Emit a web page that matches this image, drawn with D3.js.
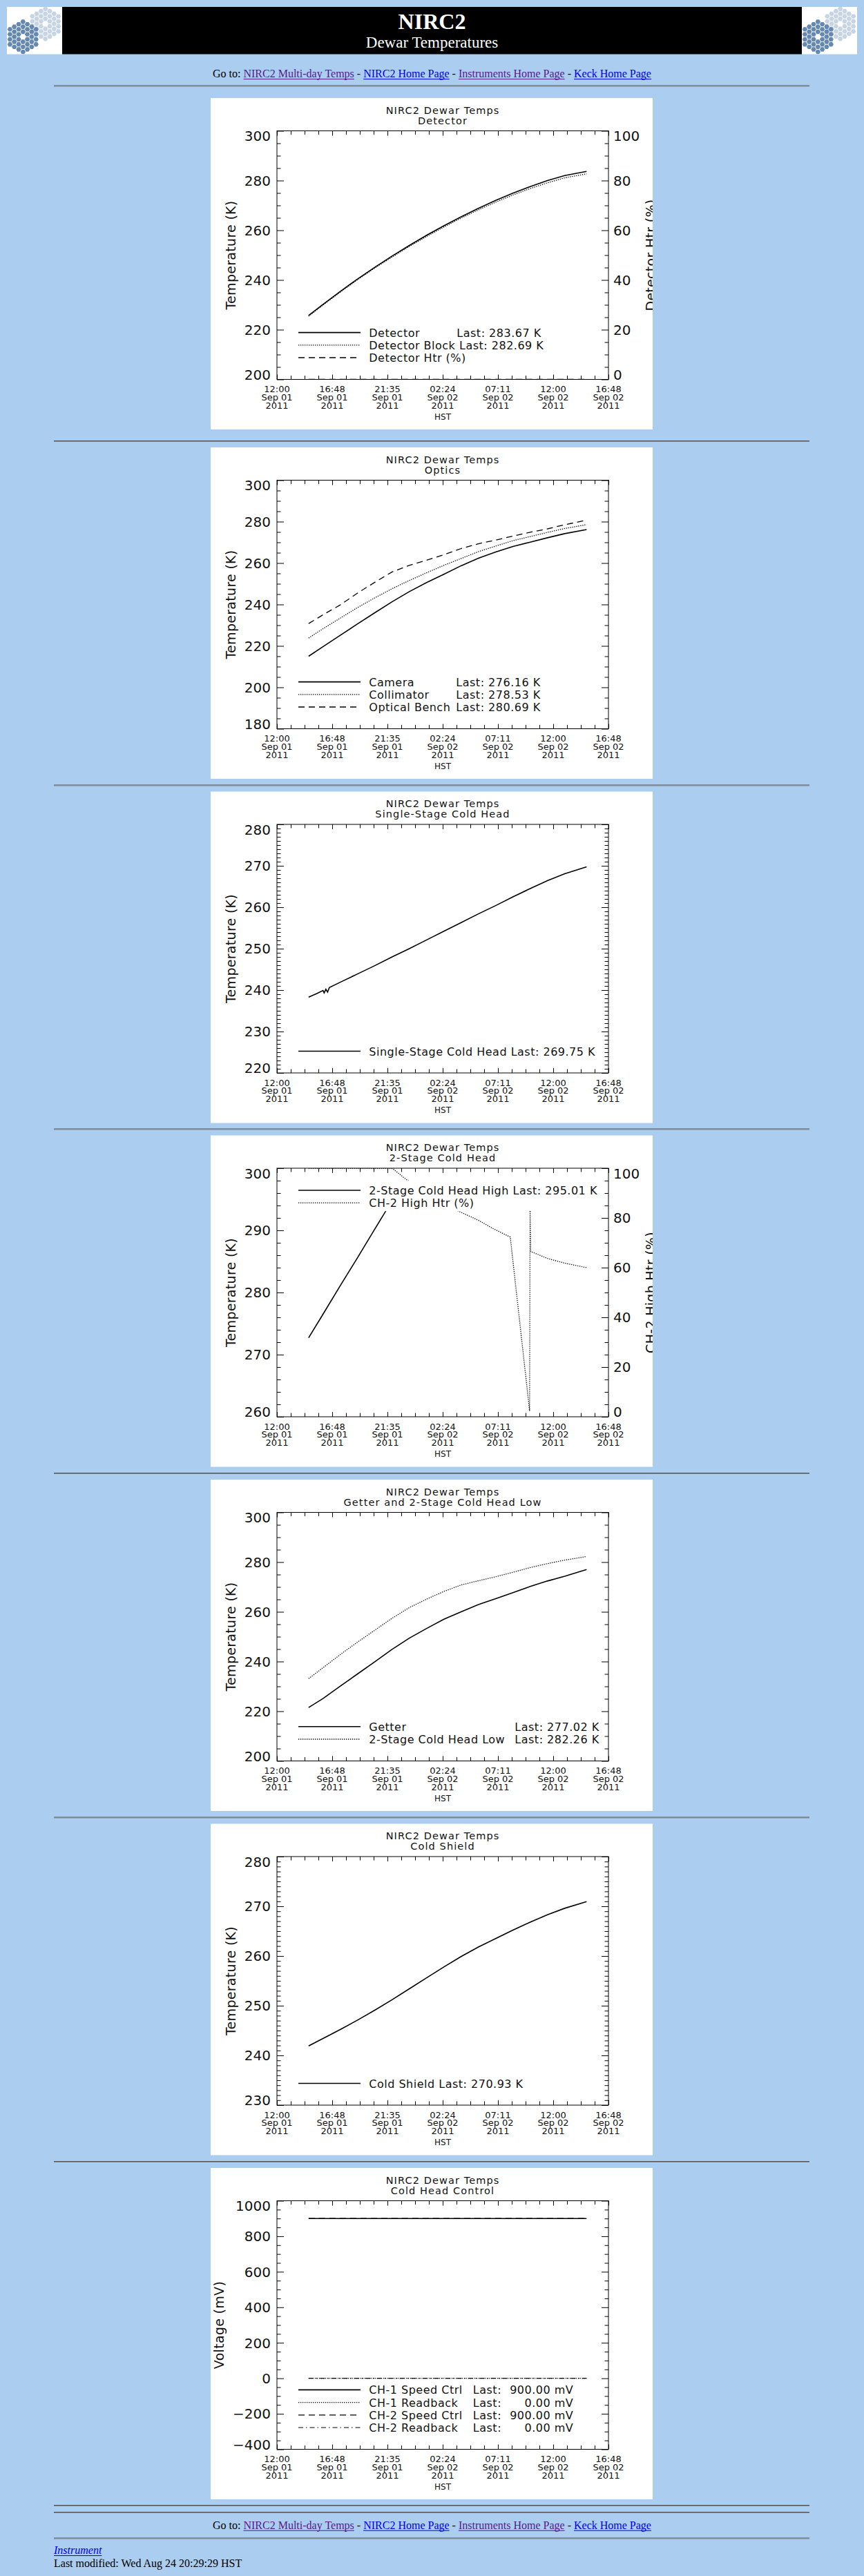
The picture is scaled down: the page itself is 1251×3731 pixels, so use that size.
<!DOCTYPE html>
<html>
<head>
<meta charset="utf-8">
<title>NIRC2 Dewar Temperatures</title>
<script src="https://cdn.jsdelivr.net/npm/d3@7"></script>
<style>
html,body{margin:0;padding:0;background:#abcdef;}
svg{display:block;}
</style>
</head>
<body>
<svg id="page" width="1251" height="3731"></svg>
<script>
// ---------------- DATA ----------------
// x axis: hours after 12:00 HST, Sep 01 2011
const xTickHours = [0, 4.8, 9.6, 14.4, 19.2, 24, 28.8];
const xTickTimes = ["12:00", "16:48", "21:35", "02:24", "07:11", "12:00", "16:48"];
const xTickDates = ["Sep 01", "Sep 01", "Sep 01", "Sep 02", "Sep 02", "Sep 02", "Sep 02"];
const xTickYears = ["2011", "2011", "2011", "2011", "2011", "2011", "2011"];

// sample times (hours after 12:00 Sep 01)
const hours = [2.75, 4, 5.5, 7, 8.5, 10, 11.5, 13, 14.5, 16, 17.5, 19, 20.5, 22, 23.5, 25, 26.9];

// Panel 1: Detector
const detectorT      = [225.7, 230.2, 235.4, 240.4, 245.1, 249.6, 253.9, 258.0, 261.8, 265.4, 268.8, 272.0, 274.9, 277.6, 280.0, 282.0, 283.67];
const detectorBlockT = [225.4, 229.9, 235.1, 240.1, 244.8, 249.2, 253.5, 257.5, 261.3, 264.9, 268.2, 271.3, 274.2, 276.8, 279.1, 281.1, 282.69];
const detectorHtrHours = [2.75, 26.9];
const detectorHtr      = [0, 0];
const p1YTicks = [200, 220, 240, 260, 280, 300];
const pctTicks = [0, 20, 40, 60, 80, 100];
const p1LegendNames = ["Detector", "Detector Block", "Detector Htr (%)"];
const p1LegendLast  = ["Last: 283.67 K", "Last: 282.69 K", ""];

// Panel 2: Optics
const cameraT     = [215.0, 219.6, 225.1, 230.6, 236.0, 241.3, 246.2, 250.6, 254.6, 258.7, 262.3, 265.3, 268.0, 270.1, 272.2, 274.2, 276.16];
const collimatorT = [223.8, 228.3, 233.4, 238.5, 243.2, 247.6, 251.6, 255.3, 258.9, 262.2, 265.5, 268.2, 270.8, 272.8, 274.8, 276.7, 278.53];
const benchT      = [230.8, 235.0, 239.8, 245.5, 250.7, 255.7, 258.9, 261.4, 264.0, 267.0, 269.3, 271.1, 273.0, 274.9, 276.5, 278.5, 280.69];
const p2YTicks = [180, 200, 220, 240, 260, 280, 300];
const p2LegendNames = ["Camera", "Collimator", "Optical Bench"];
const p2LegendLast  = ["Last: 276.16 K", "Last: 278.53 K", "Last: 280.69 K"];

// Panel 3: Single-Stage Cold Head
const p3Hours = [2.75, 3.5, 4.0, 4.1, 4.25, 4.4, 4.55, 5.5, 7, 8.5, 10, 11.5, 13, 14.5, 16, 17.5, 19, 20.5, 22, 23.5, 25, 26.9];
const singleStageT = [238.3, 239.2, 239.9, 239.3, 240.2, 239.5, 240.6, 241.9, 243.9, 245.9, 248.0, 250.0, 252.1, 254.2, 256.3, 258.4, 260.4, 262.5, 264.5, 266.4, 268.1, 269.75];
const p3YTicks = [220, 230, 240, 250, 260, 270, 280];
const p3LegendNames = ["Single-Stage Cold Head"];
const p3LegendLast  = ["Last: 269.75 K"];

// Panel 4: 2-Stage Cold Head
const p4Hours = [2.75, 4, 5.5, 7, 8.5, 9.45, 10.2, 11.5, 14, 17, 20, 21.9, 21.99, 22.1, 25, 26.9];
const twoStageHighT = [272.7, 276.5, 281.1, 285.6, 290.2, 293.1, 294.7, 295.0, 295.1, 295.0, 295.1, 295.0, 293.0, 295.0, 295.0, 295.01];
const p4HtrHours = [2.75, 9.8, 10.07, 11.19, 13.5, 15.79, 17.53, 18.78, 20.27, 21.95, 21.99, 22.05, 23.5, 25, 26.9];
const ch2HighHtr = [100, 100, 99.8, 95.6, 89.0, 82.7, 79.0, 75.7, 72.3, 2.3, 82.5, 66.5, 63.7, 61.8, 60.0];
const p4YTicks = [260, 270, 280, 290, 300];
const p4LegendNames = ["2-Stage Cold Head High", "CH-2 High Htr (%)"];
const p4LegendLast  = ["Last: 295.01 K", ""];

// Panel 5: Getter and 2-Stage Cold Head Low
const getterT      = [221.5, 225.1, 230.1, 235.0, 239.9, 244.9, 249.4, 253.3, 257.0, 260.0, 262.9, 265.3, 267.7, 270.2, 272.4, 274.3, 277.02];
const twoStageLowT = [233.1, 237.5, 242.8, 247.8, 252.6, 257.4, 261.7, 265.1, 268.2, 270.8, 272.5, 274.1, 275.9, 277.8, 279.4, 280.8, 282.26];
const p5YTicks = [200, 220, 240, 260, 280, 300];
const p5LegendNames = ["Getter", "2-Stage Cold Head Low"];
const p5LegendLast  = ["Last: 277.02 K", "Last: 282.26 K"];

// Panel 6: Cold Shield
const coldShieldT = [241.9, 243.4, 245.2, 247.1, 249.1, 251.2, 253.4, 255.6, 257.8, 259.9, 261.8, 263.5, 265.2, 266.8, 268.3, 269.6, 270.93];
const p6YTicks = [230, 240, 250, 260, 270, 280];
const p6LegendNames = ["Cold Shield"];
const p6LegendLast  = ["Last: 270.93 K"];

// Panel 7: Cold Head Control (mV)
const ctrlHours   = [2.75, 26.9];
const ch1SpeedCtrl = [900, 900];
const ch1Readback  = [0, 0];
const ch2SpeedCtrl = [900, 900];
const ch2Readback  = [0, 0];
const p7YTicks = [-400, -200, 0, 200, 400, 600, 800, 1000];
const p7LegendNames = ["CH-1 Speed Ctrl", "CH-1 Readback", "CH-2 Speed Ctrl", "CH-2 Readback"];
const p7LegendValues = ["900.00 mV", "0.00 mV", "900.00 mV", "0.00 mV"];

// page texts
const navLabels  = ["NIRC2 Multi-day Temps", "NIRC2 Home Page", "Instruments Home Page", "Keck Home Page"];
const navVisited = [true, false, true, false];

// ---------------- LAYOUT ----------------
const PAGE_W = 1251;
const IMG_X = 305, IMG_W = 640, IMG_H = 480;
const panelTops = [142, 648, 1146.5, 1644.5, 2143, 2641.5, 3140];
const BOX = {x0: 96, x1: 576, y0: 47.5, y1: 407.5};
const SANS = "DejaVu Sans, Verdana, sans-serif";
const SERIF = "Liberation Serif, Times New Roman, serif";
const HR_X0 = 78, HR_X1 = 1172;

const svg = d3.select("#page");

// ---------------- HEADER ----------------
function hexPath(cx, cy, r) {
  const pts = d3.range(6).map(k => [cx + r * Math.cos(Math.PI / 3 * k), cy + r * Math.sin(Math.PI / 3 * k)]);
  return d3.line()(pts) + "Z";
}
function drawLogo(g, lx) {
  g.append("rect").attr("x", lx).attr("y", 10).attr("width", 80).attr("height", 68.5).attr("fill", "#fff");
  const cells = [];
  for (let q = -3; q <= 3; q++) for (let r = -3; r <= 3; r++) {
    if (Math.max(Math.abs(q), Math.abs(r), Math.abs(q + r)) > 3) continue;
    if (q === 0 && r === 0) continue;
    cells.push([q, r]);
  }
  const R = 4.2;
  const clusters = [
    {cx: lx + 55.7, cy: 34.5, fill: "#c6d4e4"},
    {cx: lx + 23.3, cy: 53.3, fill: "#6488b0"}
  ];
  const cl = "logo" + lx;
  g.append("clipPath").attr("id", cl).append("rect").attr("x", lx).attr("y", 10).attr("width", 80).attr("height", 68.5);
  const lg = g.append("g").attr("clip-path", `url(#${cl})`);
  clusters.forEach(c => {
    lg.append("g").selectAll("path").data(cells).join("path")
      .attr("d", d => hexPath(c.cx + R * 1.5 * d[0], c.cy + R * Math.sqrt(3) * (d[1] + d[0] / 2), R * 0.88))
      .attr("fill", c.fill);
  });
}
const hdr = svg.append("g");
hdr.append("rect").attr("x", 90).attr("y", 10).attr("width", 1071).attr("height", 68.5).attr("fill", "#000");
drawLogo(hdr, 10);
drawLogo(hdr, 1161);
hdr.append("text").attr("x", PAGE_W / 2).attr("y", 41.5).attr("text-anchor", "middle")
  .attr("font-family", SERIF).attr("font-weight", "bold").attr("font-size", 32).attr("fill", "#fff").text("NIRC2");
hdr.append("text").attr("x", PAGE_W / 2).attr("y", 69).attr("text-anchor", "middle")
  .attr("font-family", SERIF).attr("font-size", 23).attr("fill", "#fff").text("Dewar Temperatures");

function hr(y) {
  svg.append("rect").attr("x", HR_X0).attr("y", y).attr("width", HR_X1 - HR_X0).attr("height", 1).attr("fill", "#555");
  svg.append("rect").attr("x", HR_X0).attr("y", y + 1).attr("width", HR_X1 - HR_X0).attr("height", 1).attr("fill", "#7d8894");
}
function goTo(y) {
  const t = svg.append("text").attr("x", PAGE_W / 2).attr("y", y).attr("text-anchor", "middle")
    .attr("font-family", SERIF).attr("font-size", 16).attr("xml:space", "preserve").style("white-space", "pre");
  t.append("tspan").attr("fill", "#000").text("Go to: ");
  const links = [];
  navLabels.forEach((lab, i) => {
    if (i > 0) t.append("tspan").attr("fill", "#000").text(" - ");
    const col = navVisited[i] ? "#551a8b" : "#0000ee";
    links.push({node: t.append("tspan").attr("fill", col).text(lab).node(), col});
  });
  links.forEach(l => {
    const x0 = l.node.getStartPositionOfChar(0).x;
    const len = l.node.getComputedTextLength();
    svg.append("rect").attr("x", x0).attr("y", y + 2).attr("width", len).attr("height", 1).attr("fill", l.col);
  });
}
goTo(112);
hr(123.5);

// ---------------- PANELS ----------------
const STYLES = {
  solid:   {w: 1.6, dash: null, c: "#000"},
  dotted:  {w: 1.3, dash: "1.3,1.7", c: "#000"},
  dashed:  {w: 1.3, dash: "9,6", c: "#000"},
  dashdot: {w: 1.1, dash: "7,4,1.5,4", c: "#000"}
};
function applyStyle(sel, s) {
  const st = STYLES[s];
  sel.attr("fill", "none").attr("stroke", st.c).attr("stroke-width", st.w);
  if (st.dash) sel.attr("stroke-dasharray", st.dash);
  return sel;
}
const fmt = d3.format("d");
const xScale = d3.scaleLinear().domain([0, 28.8]).range([BOX.x0, BOX.x1]);
const xMinor = d3.range(0, 28.8 + 1e-6, 1.2).filter(h => !xTickHours.some(t => Math.abs(t - h) < 1e-6));

function drawPanel(p, idx) {
  const top = panelTops[idx];
  const g = svg.append("g").attr("transform", `translate(${IMG_X},${top})`);
  const clipImg = "img" + idx, clipBox = "box" + idx;
  const defs = g.append("defs");
  defs.append("clipPath").attr("id", clipImg).append("rect").attr("width", IMG_W).attr("height", IMG_H);
  defs.append("clipPath").attr("id", clipBox).append("rect")
    .attr("x", BOX.x0).attr("y", BOX.y0).attr("width", BOX.x1 - BOX.x0).attr("height", BOX.y1 - BOX.y0);
  g.append("rect").attr("width", IMG_W).attr("height", IMG_H).attr("fill", "#fff");
  const root = g.append("g").attr("clip-path", `url(#${clipImg})`);

  const yTicks = p.yTicks;
  const y = d3.scaleLinear().domain([yTicks[0], yTicks[yTicks.length - 1]]).range([BOX.y1, BOX.y0]);
  const y2 = p.y2 ? d3.scaleLinear().domain([p.y2.ticks[0], p.y2.ticks[p.y2.ticks.length - 1]]).range([BOX.y1, BOX.y0]) : null;

  // series
  const plot = root.append("g").attr("clip-path", `url(#${clipBox})`);
  p.series.forEach(s => {
    const ys = s.y2 ? y2 : y;
    const line = d3.line().x(d => xScale(d[0])).y(d => ys(d[1]));
    applyStyle(plot.append("path").attr("d", line(s.h.map((h, i) => [h, s.v[i]]))), s.style);
  });

  // legend
  const L = p.legend;
  const n = L.names.length;
  const rowY = i => L.where === "top" ? 79.5 + i * 18.2 : 376 - (n - 1 - i) * 18.2;
  const lg = root.append("g");
  const bg = lg.append("rect").attr("fill", "#fff");
  const TX = 229.3;
  let maxRight = TX;
  L.names.forEach((name, i) => {
    const yy = rowY(i);
    applyStyle(lg.append("line").attr("x1", 127).attr("x2", 217).attr("y1", yy).attr("y2", yy), L.styles[i]);
    const txt = (v, x, anchor) => lg.append("text").attr("x", x).attr("y", yy + 6)
      .attr("font-family", SANS).attr("font-size", 16).attr("letter-spacing", 0.5)
      .attr("text-anchor", anchor || "start").attr("fill", "#111").text(v);
    if (L.valueRight) {
      txt(name, TX);
      txt("Last:", TX + L.col);
      txt(L.values[i], TX + L.valueRight, "end");
      maxRight = Math.max(maxRight, TX + L.valueRight);
    } else if (L.col && L.last[i]) {
      const t1 = txt(name, TX);
      const w = t1.node().getComputedTextLength();
      const lx = Math.max(TX + w + 5.6, TX + L.col);
      const t2 = txt(L.last[i], lx);
      maxRight = Math.max(maxRight, lx + t2.node().getComputedTextLength());
    } else {
      const t1 = txt(L.last[i] ? name + " " + L.last[i] : name, TX);
      maxRight = Math.max(maxRight, TX + t1.node().getComputedTextLength());
    }
  });
  bg.attr("x", 122).attr("y", rowY(0) - 14).attr("width", maxRight + 4 - 122).attr("height", rowY(n - 1) - rowY(0) + 26);

  // box
  root.append("rect").attr("x", BOX.x0).attr("y", BOX.y0).attr("width", BOX.x1 - BOX.x0).attr("height", BOX.y1 - BOX.y0)
    .attr("fill", "none").attr("stroke", "#000").attr("stroke-width", 1);

  // ticks via d3 axes
  const axes = root.append("g").attr("color", "#000");
  const noText = a => { a.selectAll("text").remove(); a.select(".domain").remove(); };
  axes.append("g").attr("transform", `translate(0,${BOX.y1})`).call(d3.axisBottom(xScale).tickValues(xTickHours).tickSize(-7).tickFormat("")).call(noText);
  axes.append("g").attr("transform", `translate(0,${BOX.y1})`).call(d3.axisBottom(xScale).tickValues(xMinor).tickSize(-5.5).tickFormat("")).call(noText);
  axes.append("g").attr("transform", `translate(0,${BOX.y0})`).call(d3.axisTop(xScale).tickValues(xTickHours).tickSize(-7).tickFormat("")).call(noText);
  axes.append("g").attr("transform", `translate(0,${BOX.y0})`).call(d3.axisTop(xScale).tickValues(xMinor).tickSize(-5.5).tickFormat("")).call(noText);
  const minorOf = (ticks, step) => d3.range(ticks[0], ticks[ticks.length - 1] + 1e-6, step).filter(v => !ticks.some(t => Math.abs(t - v) < 1e-6));
  const yMin = minorOf(yTicks, p.yMinor);
  axes.append("g").attr("transform", `translate(${BOX.x0},0)`).call(d3.axisLeft(y).tickValues(yTicks).tickSize(-10).tickFormat("")).call(noText);
  axes.append("g").attr("transform", `translate(${BOX.x0},0)`).call(d3.axisLeft(y).tickValues(yMin).tickSize(-5.5).tickFormat("")).call(noText);
  const rs = y2 || y, rTicks = p.y2 ? p.y2.ticks : yTicks, rMin = p.y2 ? minorOf(p.y2.ticks, p.y2.minor) : yMin;
  axes.append("g").attr("transform", `translate(${BOX.x1},0)`).call(d3.axisRight(rs).tickValues(rTicks).tickSize(-10).tickFormat("")).call(noText);
  axes.append("g").attr("transform", `translate(${BOX.x1},0)`).call(d3.axisRight(rs).tickValues(rMin).tickSize(-5.5).tickFormat("")).call(noText);

  // y tick labels (clamped to the box, as IDL does)
  const clampY = v => Math.max(BOX.y0 + 7.3, Math.min(BOX.y1 - 7.3, v));
  let minLeft = BOX.x0;
  yTicks.forEach(v => {
    const t = root.append("text").attr("x", BOX.x0 - 9).attr("y", clampY(y(v)) + 7.3).attr("text-anchor", "end")
      .attr("font-family", SANS).attr("font-size", 20).attr("fill", "#111").text(fmt(v));
    minLeft = Math.min(minLeft, BOX.x0 - 9 - t.node().getComputedTextLength());
  });
  root.append("text").attr("transform", `translate(${minLeft - 20},${(BOX.y0 + BOX.y1) / 2}) rotate(-90)`)
    .attr("text-anchor", "middle").attr("dominant-baseline", "central")
    .attr("font-family", SANS).attr("font-size", 19).attr("letter-spacing", 0.3).attr("fill", "#111").text(p.yTitle);
  if (p.y2) {
    let maxRight2 = BOX.x1;
    p.y2.ticks.forEach(v => {
      const t = root.append("text").attr("x", BOX.x1 + 7).attr("y", clampY(y2(v)) + 7.3)
        .attr("font-family", SANS).attr("font-size", 20).attr("fill", "#111").text(fmt(v));
      maxRight2 = Math.max(maxRight2, BOX.x1 + 7 + t.node().getComputedTextLength());
    });
    root.append("text").attr("transform", `translate(${maxRight2 + 16},${(BOX.y0 + BOX.y1) / 2}) rotate(-90)`)
      .attr("text-anchor", "middle").attr("dominant-baseline", "central")
      .attr("font-family", SANS).attr("font-size", 19).attr("letter-spacing", 0.3).attr("fill", "#111").text(p.y2.title);
  }

  // x tick labels
  xTickHours.forEach((h, i) => {
    [xTickTimes[i], xTickDates[i], xTickYears[i]].forEach((s, k) => {
      root.append("text").attr("x", xScale(h)).attr("y", BOX.y1 + 18.7 + k * 11.7).attr("text-anchor", "middle")
        .attr("font-family", SANS).attr("font-size", 13).attr("fill", "#111").text(s);
    });
  });
  const cx = (BOX.x0 + BOX.x1) / 2;
  root.append("text").attr("x", cx).attr("y", BOX.y1 + 58).attr("text-anchor", "middle")
    .attr("font-family", SANS).attr("font-size", 12).attr("fill", "#111").text("HST");

  // titles
  root.append("text").attr("x", cx).attr("y", 22.7).attr("text-anchor", "middle")
    .attr("font-family", SANS).attr("font-size", 14.5).attr("letter-spacing", 1.1).attr("fill", "#111").text("NIRC2 Dewar Temps");
  root.append("text").attr("x", cx).attr("y", 37.7).attr("text-anchor", "middle")
    .attr("font-family", SANS).attr("font-size", 14.5).attr("letter-spacing", 1.1).attr("fill", "#111").text(p.sub);
}

const panels = [
  {sub: "Detector", yTicks: p1YTicks, yMinor: 5, yTitle: "Temperature (K)",
   y2: {ticks: pctTicks, minor: 5, title: "Detector Htr (%)"},
   series: [{h: hours, v: detectorT, style: "solid"}, {h: hours, v: detectorBlockT, style: "dotted"},
            {h: detectorHtrHours, v: detectorHtr, style: "dashed", y2: true}],
   legend: {where: "bottom", names: p1LegendNames, last: p1LegendLast, styles: ["solid", "dotted", "dashed"], col: 127}},
  {sub: "Optics", yTicks: p2YTicks, yMinor: 5, yTitle: "Temperature (K)",
   series: [{h: hours, v: cameraT, style: "solid"}, {h: hours, v: collimatorT, style: "dotted"}, {h: hours, v: benchT, style: "dashed"}],
   legend: {where: "bottom", names: p2LegendNames, last: p2LegendLast, styles: ["solid", "dotted", "dashed"], col: 126}},
  {sub: "Single-Stage Cold Head", yTicks: p3YTicks, yMinor: 1, yTitle: "Temperature (K)",
   series: [{h: p3Hours, v: singleStageT, style: "solid"}],
   legend: {where: "bottom", names: p3LegendNames, last: p3LegendLast, styles: ["solid"]}},
  {sub: "2-Stage Cold Head", yTicks: p4YTicks, yMinor: 2, yTitle: "Temperature (K)",
   y2: {ticks: pctTicks, minor: 5, title: "CH-2 High Htr (%)"},
   series: [{h: p4Hours, v: twoStageHighT, style: "solid"}, {h: p4HtrHours, v: ch2HighHtr, style: "dotted", y2: true}],
   legend: {where: "top", names: p4LegendNames, last: p4LegendLast, styles: ["solid", "dotted"]}},
  {sub: "Getter and 2-Stage Cold Head Low", yTicks: p5YTicks, yMinor: 5, yTitle: "Temperature (K)",
   series: [{h: hours, v: getterT, style: "solid"}, {h: hours, v: twoStageLowT, style: "dotted"}],
   legend: {where: "bottom", names: p5LegendNames, last: p5LegendLast, styles: ["solid", "dotted"], col: 211}},
  {sub: "Cold Shield", yTicks: p6YTicks, yMinor: 1, yTitle: "Temperature (K)",
   series: [{h: hours, v: coldShieldT, style: "solid"}],
   legend: {where: "bottom", names: p6LegendNames, last: p6LegendLast, styles: ["solid"]}},
  {sub: "Cold Head Control", yTicks: p7YTicks, yMinor: 50, yTitle: "Voltage (mV)",
   series: [{h: ctrlHours, v: ch1SpeedCtrl, style: "solid"}, {h: ctrlHours, v: ch1Readback, style: "dotted"},
            {h: ctrlHours, v: ch2SpeedCtrl, style: "dashed"}, {h: ctrlHours, v: ch2Readback, style: "dashdot"}],
   legend: {where: "bottom", names: p7LegendNames, values: p7LegendValues, styles: ["solid", "dotted", "dashed", "dashdot"], col: 150.5, valueRight: 296}}
];
panels.forEach((p, i) => {
  if (i > 0) hr(panelTops[i] - 10);
  drawPanel(p, i);
});

// ---------------- FOOTER ----------------
hr(3628);
hr(3638);
goTo(3662.7);
hr(3675.5);
const inst = svg.append("text").attr("x", HR_X0).attr("y", 3699).attr("font-family", SERIF).attr("font-style", "italic")
  .attr("font-size", 16).attr("fill", "#0000ee").text("Instrument");
svg.append("rect").attr("x", HR_X0).attr("y", 3701).attr("width", inst.node().getComputedTextLength()).attr("height", 1).attr("fill", "#0000ee");
svg.append("text").attr("x", HR_X0).attr("y", 3718).attr("font-family", SERIF).attr("font-size", 16).attr("fill", "#000")
  .text("Last modified: Wed Aug 24 20:29:29 HST");
</script>
</body>
</html>
